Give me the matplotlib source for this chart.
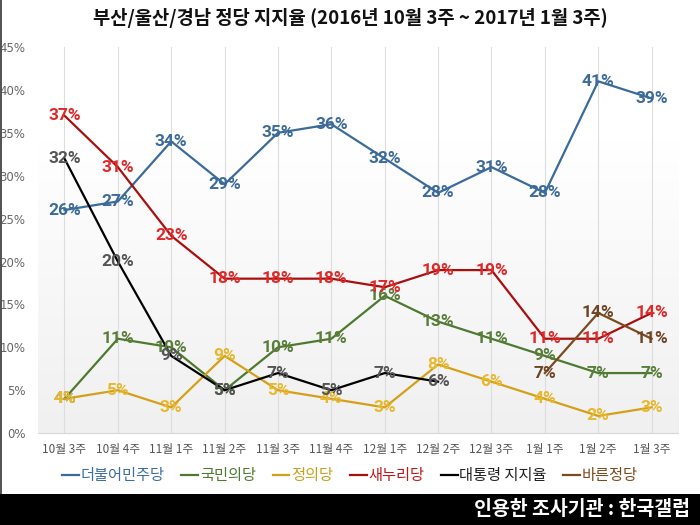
import numpy as np
import matplotlib
matplotlib.use("Agg")
import matplotlib.pyplot as plt
from matplotlib.patches import Rectangle
from matplotlib.lines import Line2D

plt.rcParams['font.family'] = ['Noto Sans CJK KR', 'DejaVu Sans']

categories = ["10월 3주", "10월 4주", "11월 1주", "11월 2주", "11월 3주", "11월 4주",
              "12월 1주", "12월 2주", "12월 3주", "1월 1주", "1월 2주", "1월 3주"]
minju = [26, 27, 34, 29, 35, 36, 32, 28, 31, 28, 41, 39]
gukmin = [4, 11, 10, 5, 10, 11, 16, 13, 11, 9, 7, 7]
jeongui = [4, 5, 3, 9, 5, 4, 3, 8, 6, 4, 2, 3]
saenuri = [37, 31, 23, 18, 18, 18, 17, 19, 19, 11, 11, 14]
president = [32, 20, 9, 5, 7, 5, 7, 6, None, None, None, None]
bareun = [None, None, None, None, None, None, None, None, None, 7, 14, 11]

series = [
    ("더불어민주당", minju, "#3a6b9a", "#3d6b99", "#3d6fa0"),
    ("국민의당", gukmin, "#4e7a30", "#5a7d3c", "#4f7a30"),
    ("정의당", jeongui, "#d4a017", "#e8b830", "#c8a020"),
    ("새누리당", saenuri, "#a81010", "#e02828", "#c01818"),
    ("대통령 지지율", president, "#000000", "#555555", "#222222"),
    ("바른정당", bareun, "#7b4a1e", "#6e4424", "#7b4a1e"),
]

fig = plt.figure(figsize=(7, 5.25), dpi=100)
ax = fig.add_axes([0.054, 0.175, 0.915, 0.7355])

x = np.arange(len(categories))
ax.set_xlim(-0.5, len(categories) - 0.5)
ax.set_ylim(0, 45)

# subtle gradient background
grad = np.linspace(0, 1, 256).reshape(-1, 1)
cmap = matplotlib.colors.LinearSegmentedColormap.from_list(
    'g', [(0, '#f0f0f0'), (0.45, '#f9f9f9'), (0.75, '#ffffff'), (1, '#ffffff')])
ax.imshow(grad, extent=(-0.5, len(categories) - 0.5, 0, 45), aspect='auto',
          cmap=cmap, origin='lower', zorder=0)

for xi in x:
    ax.axvline(xi, color='#dddddd', lw=0.8, zorder=1)

for name, vals, lc, tc, _ in series:
    xs = [xi for xi, v in zip(x, vals) if v is not None]
    ys = [v for v in vals if v is not None]
    ax.plot(xs, ys, color=lc, lw=1.6, zorder=3)

for name, vals, lc, tc, _ in series:
    for xi, v in zip(x, vals):
        if v is None:
            continue
        ax.text(xi, v, f"{v}%", color=tc, fontsize=12.5, fontweight='bold',
                family=['Roboto', 'DejaVu Sans'], ha='center', va='center', zorder=5)

ax.set_yticks(np.arange(0, 46, 5))
ax.set_yticklabels([f"{t}%" for t in range(0, 46, 5)], color='#666666', fontsize=8.5,
                   family=['DejaVu Sans'])
ax.set_xticks(x)
ax.set_xticklabels(categories, color='#555555', fontsize=8.5)
ax.tick_params(axis='both', length=0)
ax.tick_params(axis='y', pad=9)
ax.tick_params(axis='x', pad=7)
for s in ['left', 'right', 'top']:
    ax.spines[s].set_visible(False)
ax.spines['bottom'].set_color('#d9d9d9')

handles = [Line2D([0], [0], color=s[2], lw=1.6) for s in series]
leg = fig.legend(handles, [s[0] for s in series], loc='center', bbox_to_anchor=(0.5, 0.094),
                 ncol=6, frameon=False, fontsize=11, handlelength=1.1, handletextpad=0.1,
                 columnspacing=1.1)
for t, s in zip(leg.get_texts(), series):
    t.set_color(s[4])

fig.text(0.5, 0.965, "부산/울산/경남 정당 지지율 (2016년 10월 3주 ~ 2017년 1월 3주)",
         ha='center', va='center', fontsize=13.5, fontweight='bold', color='#111111')

fig.patches.append(Rectangle((0, 0), 1, 31 / 525, transform=fig.transFigure,
                             facecolor='black', edgecolor='none', zorder=0))
fig.patches.append(Rectangle((0, 31 / 525), 2 / 700, 1 - 31 / 525, transform=fig.transFigure,
                             facecolor='#555555', edgecolor='none', zorder=0))
fig.text(0.985, 0.029, "인용한 조사기관 : 한국갤럽", ha='right', va='center',
         fontsize=14, fontweight='bold', color='white')

fig.savefig("out.png", dpi=100)
